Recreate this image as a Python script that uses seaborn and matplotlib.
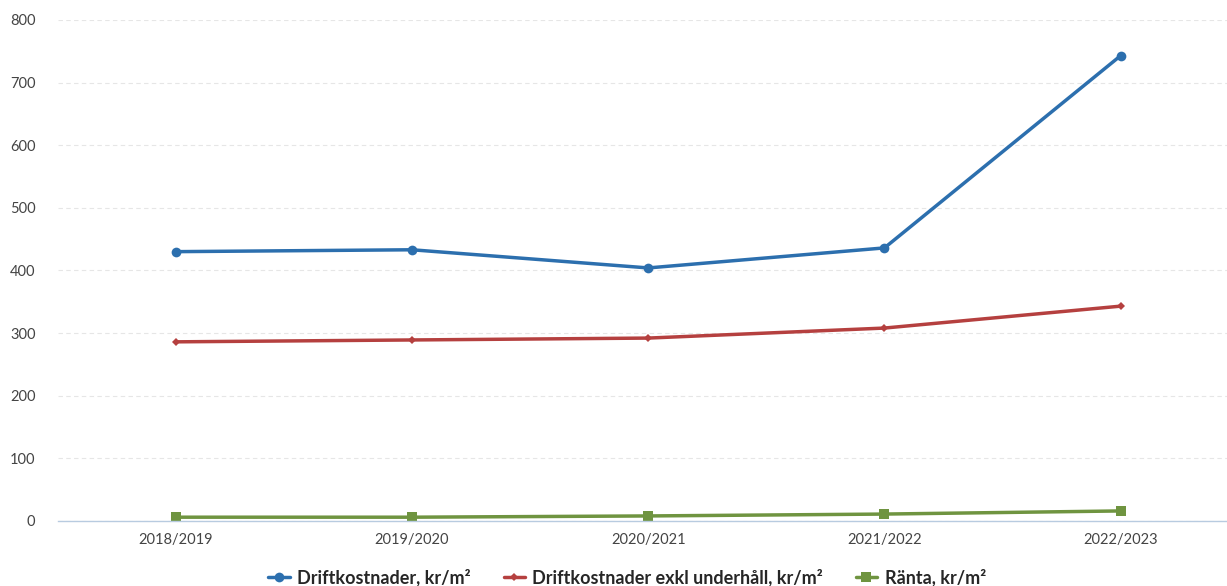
import matplotlib
matplotlib.use("Agg")
import matplotlib.pyplot as plt
import seaborn as sns
import pandas as pd

years = ["2018/2019", "2019/2020", "2020/2021", "2021/2022", "2022/2023"]
drift = [430, 433, 404, 436, 743]
drift_exkl = [286, 289, 292, 308, 343]
ranta = [6, 6, 8, 11, 16]
series_names = ["Driftkostnader, kr/m²", "Driftkostnader exkl underhåll, kr/m²", "Ränta, kr/m²"]
yticks = [0, 100, 200, 300, 400, 500, 600, 700, 800]

sns.set_theme(style="white")
plt.rcParams['font.family'] = ['Lato', 'DejaVu Sans']

rows = []
for name, vals in zip(series_names, [drift, drift_exkl, ranta]):
    for i, (y, v) in enumerate(zip(years, vals)):
        rows.append({"idx": i, "year": y, "value": v, "series": name})
df = pd.DataFrame(rows)

colors = {series_names[0]: "#2c6fae", series_names[1]: "#b5403f", series_names[2]: "#6f9440"}
markers = {series_names[0]: "o", series_names[1]: "D", series_names[2]: "s"}
sizes = {series_names[0]: 7, series_names[1]: 4.5, series_names[2]: 7}

fig = plt.figure(figsize=(12.27, 5.86), dpi=100)
ax = fig.add_axes([0.047, 0.111, 0.953, 0.855])

for name in series_names:
    sub = df[df.series == name]
    sns.lineplot(data=sub, x="idx", y="value", ax=ax, color=colors[name], marker=markers[name],
                 markersize=sizes[name], linewidth=2.5, markeredgewidth=0, label=name)

ax.set_xlim(-0.5, 4.45)
ax.set_ylim(0, 800)
ax.set_yticks(yticks)
ax.set_yticklabels([str(t) for t in yticks], fontsize=10.5, color="#444444")
ax.set_xticks(range(len(years)))
ax.set_xticklabels(years, fontsize=10.5, color="#444444")
ax.tick_params(axis="x", length=0, pad=9)
ax.tick_params(axis="y", length=0, pad=16)
ax.set_xlabel("")
ax.set_ylabel("")
ax.grid(axis="y", color="#e6e6e6", linestyle=(0, (4, 3)), linewidth=0.8)
ax.set_axisbelow(True)
for s in ["top", "right", "left"]:
    ax.spines[s].set_visible(False)
ax.spines["bottom"].set_color("#b8cbe0")
ax.spines["bottom"].set_linewidth(1)

ax.legend(loc="center", bbox_to_anchor=(0.487, -0.112), ncol=3, frameon=False,
          handlelength=1.2, columnspacing=1.8, handletextpad=0.4,
          prop={"weight": "bold", "size": 13})

fig.savefig("out.png", dpi=100)
